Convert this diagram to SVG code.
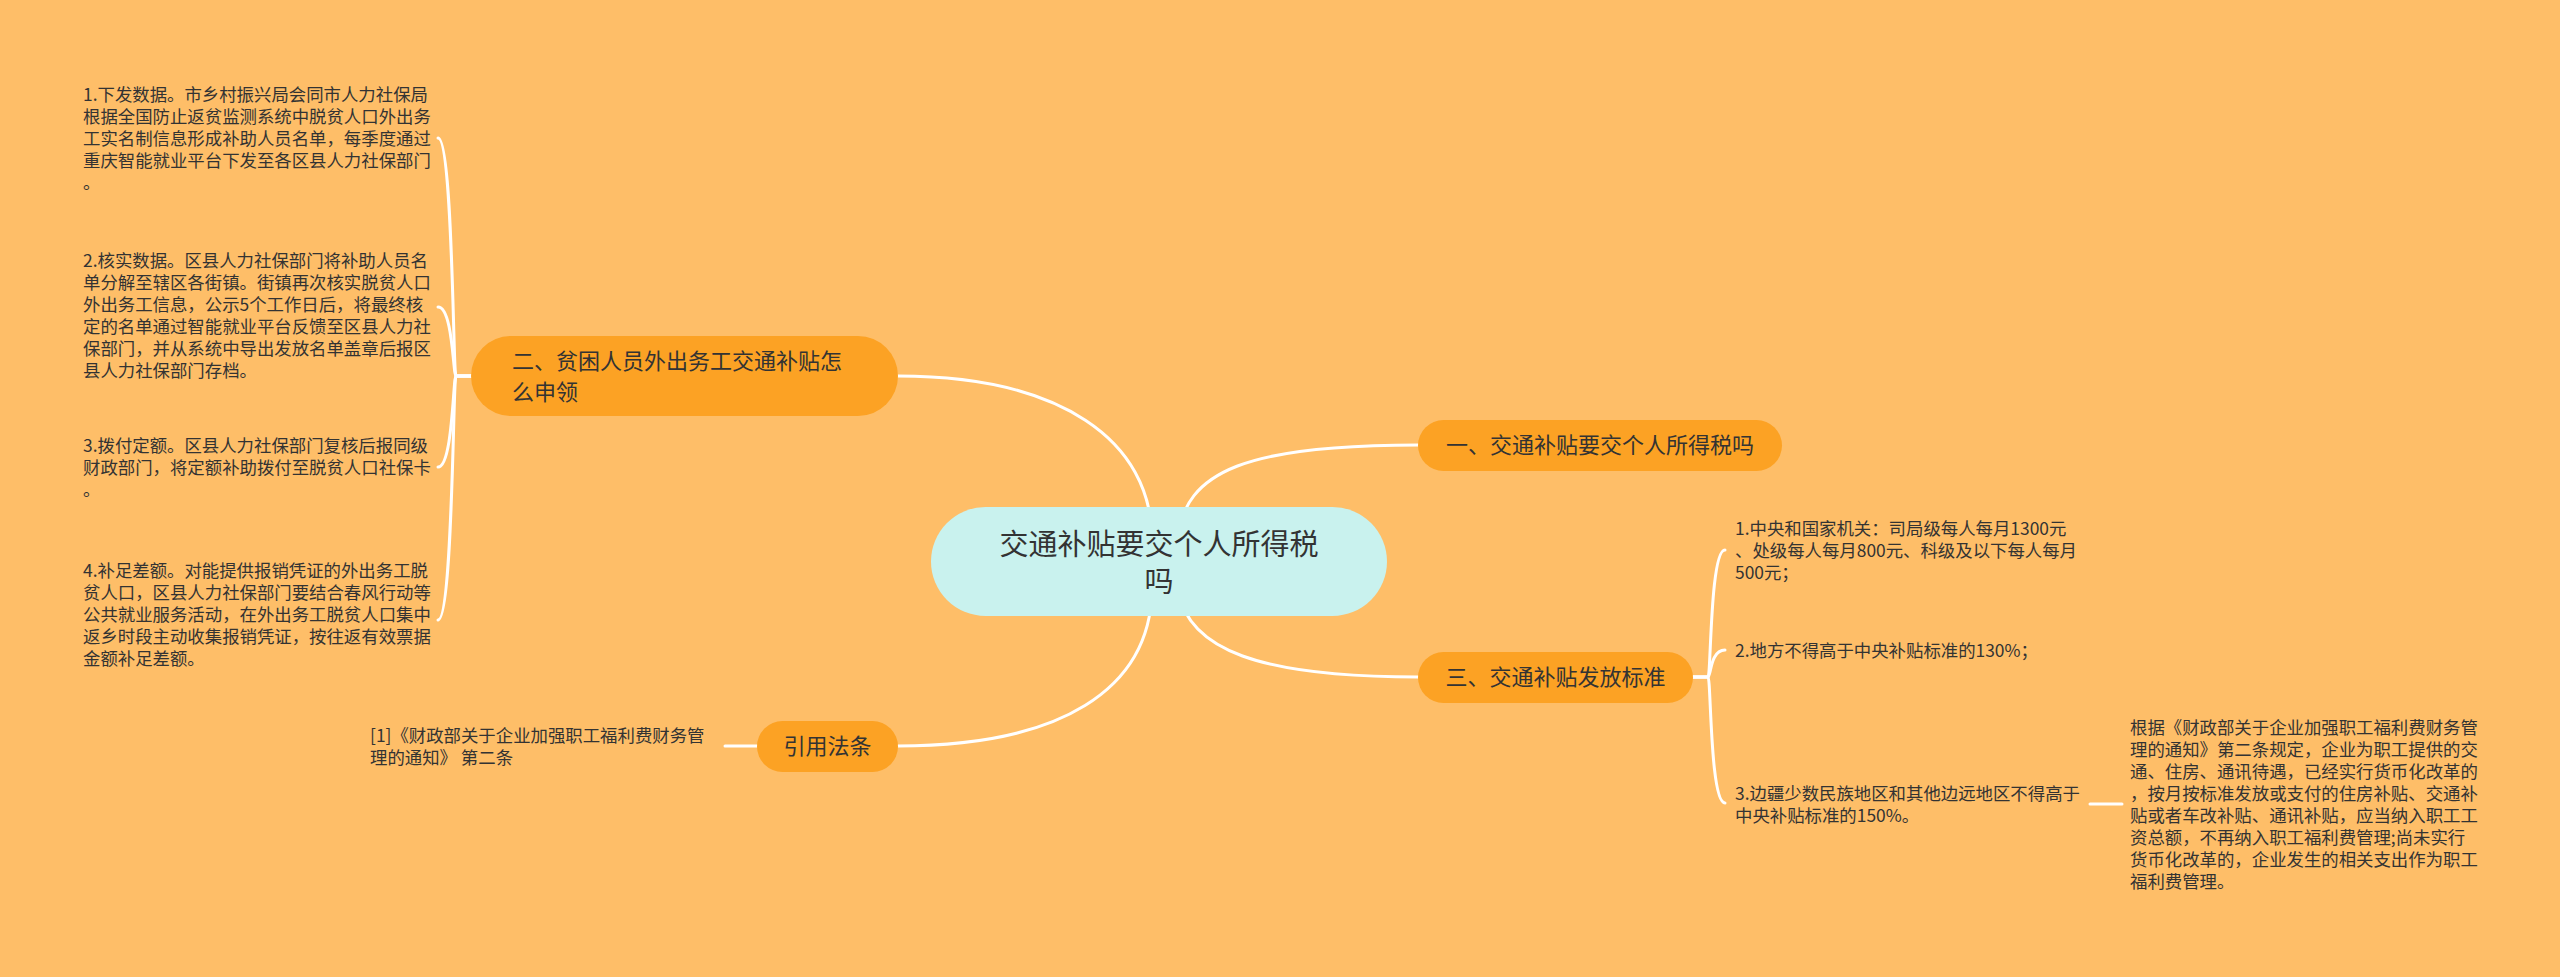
<svg xmlns="http://www.w3.org/2000/svg" width="2560" height="977" viewBox="0 0 2560 977">
<style>
text{font-family:"Noto Sans CJK SC","Noto Sans",sans-serif;fill:#333333}
.leaf{font-size:17.4px}
.br{font-size:22px}
.ctr{font-size:29px}
.conn{fill:none;stroke:#FFFFFF;stroke-width:3;stroke-linecap:round}
.bnode{fill:#FCA224}
.cnode{fill:#C9F2EE}
</style>
<rect x="0" y="0" width="2560" height="977" fill="#FEBE68"/>
<g id="connectors">
<path class="conn" d="M 898 376 C 1060 376 1152 440 1152 540"/>
<path class="conn" d="M 1178 540 C 1183 470 1250 445 1418 445"/>
<path class="conn" d="M 1178 590 C 1188 650 1260 677 1418 677"/>
<path class="conn" d="M 1152 590 C 1150 690 1060 746 898 746"/>
<path class="conn" d="M 471 376 H 456 C 453 376 453 138 438 138"/>
<path class="conn" d="M 471 376 H 456 C 453 376 453 307 438 307"/>
<path class="conn" d="M 471 376 H 456 C 453 376 453 467 438 467"/>
<path class="conn" d="M 471 376 H 456 C 453 376 453 620 438 620"/>
<path class="conn" d="M 757 746 H 725"/>
<path class="conn" d="M 1693 677 H 1708 C 1711 677 1710 550 1725 550"/>
<path class="conn" d="M 1693 677 H 1708 C 1711 677 1710 650 1725 650"/>
<path class="conn" d="M 1693 677 H 1708 C 1711 677 1710 803 1725 803"/>
<path class="conn" d="M 2090 804 H 2122"/>
</g>
<g id="center">
<rect class="cnode" x="931" y="507" width="456" height="109" rx="54.5"/>
<text class="ctr" x="1159" y="555" text-anchor="middle">交通补贴要交个人所得税</text>
<text class="ctr" x="1159" y="592" text-anchor="middle">吗</text>
</g>
<g id="branch1">
<rect class="bnode" x="1418" y="420" width="364" height="51" rx="25.5"/>
<text class="br" x="1600" y="453" text-anchor="middle">一、交通补贴要交个人所得税吗</text>
</g>
<g id="branch2">
<rect class="bnode" x="471" y="336" width="427" height="80" rx="40"/>
<text class="br" x="512" y="369">二、贫困人员外出务工交通补贴怎</text>
<text class="br" x="512" y="400">么申领</text>
</g>
<g id="branch3">
<rect class="bnode" x="1418" y="652" width="275" height="51" rx="25.5"/>
<text class="br" x="1555.5" y="685" text-anchor="middle">三、交通补贴发放标准</text>
</g>
<g id="branch4">
<rect class="bnode" x="757" y="721" width="141" height="51" rx="25.5"/>
<text class="br" x="827.5" y="754" text-anchor="middle">引用法条</text>
</g>
<g id="leaf2-1">
<text class="leaf" x="83" y="101">1.下发数据。市乡村振兴局会同市人力社保局</text>
<text class="leaf" x="83" y="123">根据全国防止返贫监测系统中脱贫人口外出务</text>
<text class="leaf" x="83" y="145">工实名制信息形成补助人员名单，每季度通过</text>
<text class="leaf" x="83" y="167">重庆智能就业平台下发至各区县人力社保部门</text>
<text class="leaf" x="83" y="189">。</text>
</g>
<g id="leaf2-2">
<text class="leaf" x="83" y="267">2.核实数据。区县人力社保部门将补助人员名</text>
<text class="leaf" x="83" y="289">单分解至辖区各街镇。街镇再次核实脱贫人口</text>
<text class="leaf" x="83" y="311">外出务工信息，公示5个工作日后，将最终核</text>
<text class="leaf" x="83" y="333">定的名单通过智能就业平台反馈至区县人力社</text>
<text class="leaf" x="83" y="355">保部门，并从系统中导出发放名单盖章后报区</text>
<text class="leaf" x="83" y="377">县人力社保部门存档。</text>
</g>
<g id="leaf2-3">
<text class="leaf" x="83" y="452">3.拨付定额。区县人力社保部门复核后报同级</text>
<text class="leaf" x="83" y="474">财政部门，将定额补助拨付至脱贫人口社保卡</text>
<text class="leaf" x="83" y="496">。</text>
</g>
<g id="leaf2-4">
<text class="leaf" x="83" y="577">4.补足差额。对能提供报销凭证的外出务工脱</text>
<text class="leaf" x="83" y="599">贫人口，区县人力社保部门要结合春风行动等</text>
<text class="leaf" x="83" y="621">公共就业服务活动，在外出务工脱贫人口集中</text>
<text class="leaf" x="83" y="643">返乡时段主动收集报销凭证，按往返有效票据</text>
<text class="leaf" x="83" y="665">金额补足差额。</text>
</g>
<g id="leaf4-1">
<text class="leaf" x="370" y="742">[1]《财政部关于企业加强职工福利费财务管</text>
<text class="leaf" x="370" y="764">理的通知》 第二条</text>
</g>
<g id="leaf3-1">
<text class="leaf" x="1735" y="535">1.中央和国家机关：司局级每人每月1300元</text>
<text class="leaf" x="1735" y="557">、处级每人每月800元、科级及以下每人每月</text>
<text class="leaf" x="1735" y="579">500元；</text>
</g>
<g id="leaf3-2">
<text class="leaf" x="1735" y="657">2.地方不得高于中央补贴标准的130%；</text>
</g>
<g id="leaf3-3">
<text class="leaf" x="1735" y="800">3.边疆少数民族地区和其他边远地区不得高于</text>
<text class="leaf" x="1735" y="822">中央补贴标准的150%。</text>
</g>
<g id="leaf3-3-1">
<text class="leaf" x="2130" y="734">根据《财政部关于企业加强职工福利费财务管</text>
<text class="leaf" x="2130" y="756">理的通知》第二条规定，企业为职工提供的交</text>
<text class="leaf" x="2130" y="778">通、住房、通讯待遇，已经实行货币化改革的</text>
<text class="leaf" x="2130" y="800">，按月按标准发放或支付的住房补贴、交通补</text>
<text class="leaf" x="2130" y="822">贴或者车改补贴、通讯补贴，应当纳入职工工</text>
<text class="leaf" x="2130" y="844">资总额，不再纳入职工福利费管理;尚未实行</text>
<text class="leaf" x="2130" y="866">货币化改革的，企业发生的相关支出作为职工</text>
<text class="leaf" x="2130" y="888">福利费管理。</text>
</g>
</svg>
